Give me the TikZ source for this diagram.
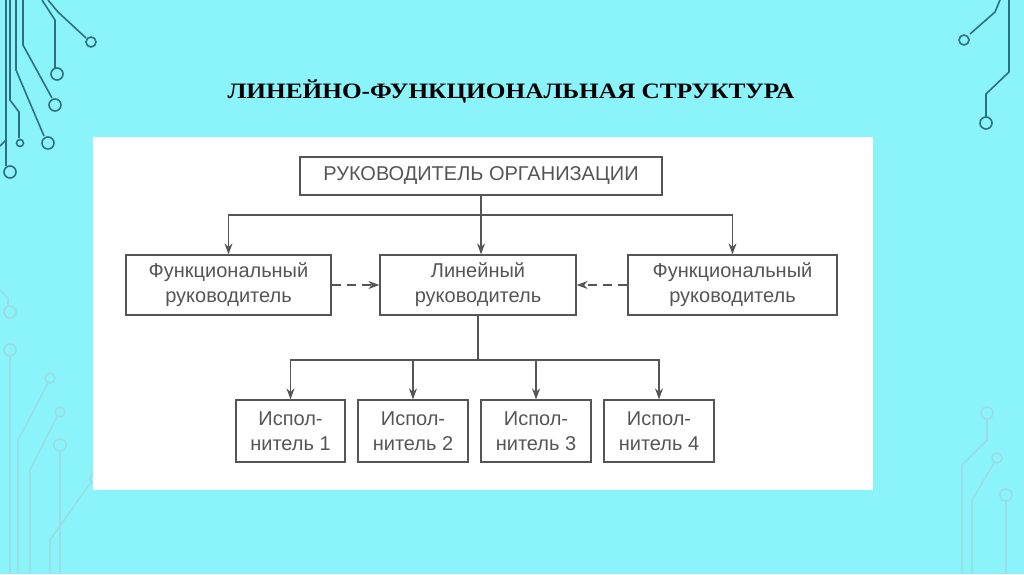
\documentclass[tikz,border=0pt]{standalone}
\usepackage{fontspec}
\setmainfont{Liberation Sans}
\newfontfamily\titlefont{Liberation Serif}
\usetikzlibrary{arrows.meta}
\definecolor{bg}{HTML}{8AF4FA}
\definecolor{dark}{HTML}{2F6F82}
\definecolor{faint}{HTML}{9ADDE6}
\definecolor{ln}{HTML}{555555}
\tikzset{
  box/.style={draw=ln, line width=1.3pt, fill=white, text=ln, align=center, inner sep=0pt, font=\fontsize{20}{25}\selectfont},
  conn/.style={draw=ln, line width=1.2pt},
  arr/.style={conn, -{Stealth[length=11pt,width=8pt]}},
  dec/.style={draw=dark, line width=1.6pt},
  fdec/.style={draw=faint, line width=1.6pt}
}
\begin{document}
\begin{tikzpicture}[x=1pt,y=-1pt]
\fill[bg] (0,0) rectangle (1024,574);
\useasboundingbox (0,0) rectangle (1024,574);
% decorations top-left
\draw[dec] (48,0) -- (58,12) -- (86,38);
\draw[dec] (91,42) circle (5);
\draw[dec] (42,0) -- (55,20) -- (55,68);
\draw[dec] (57,74) circle (6);
\draw[dec] (23,0) -- (23,45) -- (52,98);
\draw[dec] (55,105) circle (6);
\draw[dec] (16,0) -- (16,70) -- (44,136);
\draw[dec] (48,143) circle (6);
\draw[dec] (10,0) -- (10,100) -- (19,112) -- (19,138);
\draw[dec] (20,143) circle (3.5);
\draw[dec] (6,0) -- (6,166);
\draw[dec] (10,172) circle (6);
\draw[dec] (6,140) -- (0,146);
% faint left
\draw[fdec] (0,290) -- (8,298) -- (8,306);
\draw[fdec] (10,312) circle (6);
\draw[fdec] (10,350) circle (6);
\draw[fdec] (10,356) -- (10,574);
\draw[fdec] (50,378) circle (5);
\draw[fdec] (48,383) -- (18,440) -- (18,574);
\draw[fdec] (60,412) circle (5);
\draw[fdec] (57,417) -- (30,470) -- (30,574);
\draw[fdec] (60,445) circle (6);
\draw[fdec] (60,451) -- (60,574);
\draw[fdec] (95,478) circle (5);
\draw[fdec] (91,482) -- (50,540) -- (50,574);
% top-right
\draw[dec] (1000,0) -- (995,12) -- (970,34);
\draw[dec] (964,40) circle (5);
\draw[dec] (1009,0) -- (1009,72) -- (986,94) -- (986,117);
\draw[dec] (986,123) circle (6);
% faint right
\draw[fdec] (987,413) circle (6);
\draw[fdec] (987,419) -- (987,440) -- (962,465) -- (962,574);
\draw[fdec] (997,458) circle (5);
\draw[fdec] (994,463) -- (972,500) -- (972,574);
\draw[fdec] (1006,495) circle (6);
\draw[fdec] (1006,501) -- (1006,574);
% title
\node[xscale=1.15, transform shape] (title) at (511,91) {\titlefont\bfseries\fontsize{22}{26}\selectfont ЛИНЕЙНО-ФУНКЦИОНАЛЬНАЯ СТРУКТУРА};
% white panel
\fill[white] (93,137) rectangle (873,490);
% boxes
\node[box, minimum width=362pt, minimum height=38pt] (top) at (481,176) {РУКОВОДИТЕЛЬ ОРГАНИЗАЦИИ};
\node[box, minimum width=205pt, minimum height=60pt] (fl) at (228.5,285) {Функциональный\\руководитель};
\node[box, minimum width=196pt, minimum height=60pt] (lin) at (478,285) {Линейный\\руководитель};
\node[box, minimum width=209pt, minimum height=60pt] (fr) at (732.5,285) {Функциональный\\руководитель};
\node[box, minimum width=109pt, minimum height=62pt] (e1) at (290.5,431) {Испол-\\нитель 1};
\node[box, minimum width=110pt, minimum height=62pt] (e2) at (413,431) {Испол-\\нитель 2};
\node[box, minimum width=110pt, minimum height=62pt] (e3) at (536,431) {Испол-\\нитель 3};
\node[box, minimum width=110pt, minimum height=62pt] (e4) at (659,431) {Испол-\\нитель 4};
% connectors
\coordinate (t1) at (481,215);
\coordinate (b1) at (478,360);
\draw[conn] (top.south) -- (t1);
\draw[arr] (t1) -| (fl.north);
\draw[arr] (t1) -| (fr.north);
\draw[arr] (t1) -- (t1 |- lin.north);
\draw[arr, dash pattern=on 9pt off 6pt] (fl.east) -- (lin.west);
\draw[arr, dash pattern=on 9pt off 6pt] (fr.west) -- (lin.east);
\draw[conn] (lin.south) -- (b1);
\draw[arr] (b1) -| (e1.north);
\draw[arr] (b1) -| (e2.north);
\draw[arr] (b1) -| (e3.north);
\draw[arr] (b1) -| (e4.north);
\end{tikzpicture}
\end{document}
